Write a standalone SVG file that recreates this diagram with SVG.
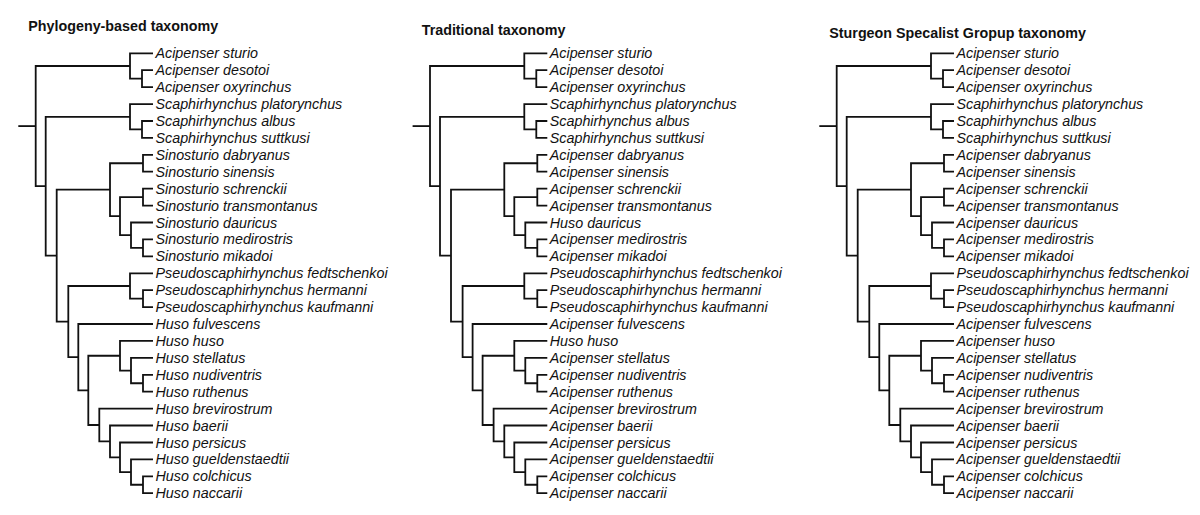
<svg xmlns="http://www.w3.org/2000/svg" width="1200" height="515" viewBox="0 0 1200 515">
<style>
.e{fill:none;stroke:#111;stroke-width:1.8;stroke-linejoin:miter;stroke-linecap:butt}
.t{font-family:"Liberation Sans",Arial,sans-serif;font-style:italic;font-size:14.3px;fill:#111}
.h{font-family:"Liberation Sans",Arial,sans-serif;font-weight:bold;font-size:14.3px;fill:#111}
</style>
<rect width="1200" height="515" fill="#fff"/>

<g id="tree1">
<text class="h" x="28.3" y="31">Phylogeny-based taxonomy</text>
<g id="connectors1" class="e">
<path d="M153 70.2H142V87.1H153"/><path d="M153 53.3H130V78.65H142"/>
<path d="M153 121H142V137.9H153"/><path d="M153 104.1H130V129.45H142"/>
<path d="M153 154.8H143V171.7H153"/><path d="M153 188.7H143V205.6H153"/>
<path d="M153 239.4H143V256.3H153"/><path d="M153 222.5H131V247.85H143"/>
<path d="M143 197.15H120V235.2H131"/><path d="M143 163.25H110V216.2H120"/>
<path d="M153 290.2H143V307.1H153"/><path d="M153 273.3H130V298.65H143"/>
<path d="M153 374.8H143V391.7H153"/><path d="M153 357.9H131V383.25H143"/>
<path d="M153 340.9H120V370.6H131"/><path d="M153 476.3H143V493.2H153"/>
<path d="M153 459.4H131V484.75H143"/><path d="M153 442.5H120V472.1H131"/>
<path d="M153 425.5H110V457.3H120"/><path d="M153 408.6H99.3V441.4H110"/>
<path d="M120 355.75H88.3V425H99.3"/><path d="M153 324H78.3V390.4H88.3"/>
<path d="M130 286H68.3V357.2H78.3"/><path d="M110 189.7H56.7V321.6H68.3"/>
<path d="M130 116.8H45.7V255.65H56.7"/><path d="M130 66H35.7V186.2H45.7"/>
<path d="M18.3 126.1H35.7"/>
</g>
<g id="labels1" class="t">
<g id="a1"><text x="155.5" y="58.3">Acipenser sturio</text></g>
<g id="a2"><text x="155.5" y="75.2">Acipenser desotoi</text></g>
<g id="a3"><text x="155.5" y="92.1">Acipenser oxyrinchus</text></g>
<g id="a4"><text x="155.5" y="109.1">Scaphirhynchus platorynchus</text></g>
<g id="a5"><text x="155.5" y="126">Scaphirhynchus albus</text></g>
<g id="a6"><text x="155.5" y="142.9">Scaphirhynchus suttkusi</text></g>
<g id="a7"><text x="155.5" y="159.8">Sinosturio dabryanus</text></g>
<g id="a8"><text x="155.5" y="176.7">Sinosturio sinensis</text></g>
<g id="a9"><text x="155.5" y="193.7">Sinosturio schrenckii</text></g>
<g id="a10"><text x="155.5" y="210.6">Sinosturio transmontanus</text></g>
<g id="a11"><text x="155.5" y="227.5">Sinosturio dauricus</text></g>
<g id="a12"><text x="155.5" y="244.4">Sinosturio medirostris</text></g>
<g id="a13"><text x="155.5" y="261.3">Sinosturio mikadoi</text></g>
<g id="a14"><text x="155.5" y="278.3">Pseudoscaphirhynchus fedtschenkoi</text></g>
<g id="a15"><text x="155.5" y="295.2">Pseudoscaphirhynchus hermanni</text></g>
<g id="a16"><text x="155.5" y="312.1">Pseudoscaphirhynchus kaufmanni</text></g>
<g id="a17"><text x="155.5" y="329">Huso fulvescens</text></g>
<g id="a18"><text x="155.5" y="345.9">Huso huso</text></g>
<g id="a19"><text x="155.5" y="362.9">Huso stellatus</text></g>
<g id="a20"><text x="155.5" y="379.8">Huso nudiventris</text></g>
<g id="a21"><text x="155.5" y="396.7">Huso ruthenus</text></g>
<g id="a22"><text x="155.5" y="413.6">Huso brevirostrum</text></g>
<g id="a23"><text x="155.5" y="430.5">Huso baerii</text></g>
<g id="a24"><text x="155.5" y="447.5">Huso persicus</text></g>
<g id="a25"><text x="155.5" y="464.4">Huso gueldenstaedtii</text></g>
<g id="a26"><text x="155.5" y="481.3">Huso colchicus</text></g>
<g id="a27"><text x="155.5" y="498.2">Huso naccarii</text></g>
</g>
</g>

<g id="tree2" transform="translate(394.3,0)">
<text class="h" x="27.4" y="35">Traditional taxonomy</text>
<g id="connectors2" class="e">
<path d="M153 70.2H142V87.1H153"/><path d="M153 53.3H130V78.65H142"/>
<path d="M153 121H142V137.9H153"/><path d="M153 104.1H130V129.45H142"/>
<path d="M153 154.8H143V171.7H153"/><path d="M153 188.7H143V205.6H153"/>
<path d="M153 239.4H143V256.3H153"/><path d="M153 222.5H131V247.85H143"/>
<path d="M143 197.15H120V235.2H131"/><path d="M143 163.25H110V216.2H120"/>
<path d="M153 290.2H143V307.1H153"/><path d="M153 273.3H130V298.65H143"/>
<path d="M153 374.8H143V391.7H153"/><path d="M153 357.9H131V383.25H143"/>
<path d="M153 340.9H120V370.6H131"/><path d="M153 476.3H143V493.2H153"/>
<path d="M153 459.4H131V484.75H143"/><path d="M153 442.5H120V472.1H131"/>
<path d="M153 425.5H110V457.3H120"/><path d="M153 408.6H99.3V441.4H110"/>
<path d="M120 355.75H88.3V425H99.3"/><path d="M153 324H78.3V390.4H88.3"/>
<path d="M130 286H68.3V357.2H78.3"/><path d="M110 189.7H56.7V321.6H68.3"/>
<path d="M130 116.8H45.7V255.65H56.7"/><path d="M130 66H35.7V186.2H45.7"/>
<path d="M18.3 126.1H35.7"/>
</g>
<g id="labels2" class="t">
<g id="b1"><text x="155.5" y="58.3">Acipenser sturio</text></g>
<g id="b2"><text x="155.5" y="75.2">Acipenser desotoi</text></g>
<g id="b3"><text x="155.5" y="92.1">Acipenser oxyrinchus</text></g>
<g id="b4"><text x="155.5" y="109.1">Scaphirhynchus platorynchus</text></g>
<g id="b5"><text x="155.5" y="126">Scaphirhynchus albus</text></g>
<g id="b6"><text x="155.5" y="142.9">Scaphirhynchus suttkusi</text></g>
<g id="b7"><text x="155.5" y="159.8">Acipenser dabryanus</text></g>
<g id="b8"><text x="155.5" y="176.7">Acipenser sinensis</text></g>
<g id="b9"><text x="155.5" y="193.7">Acipenser schrenckii</text></g>
<g id="b10"><text x="155.5" y="210.6">Acipenser transmontanus</text></g>
<g id="b11"><text x="155.5" y="227.5">Huso dauricus</text></g>
<g id="b12"><text x="155.5" y="244.4">Acipenser medirostris</text></g>
<g id="b13"><text x="155.5" y="261.3">Acipenser mikadoi</text></g>
<g id="b14"><text x="155.5" y="278.3">Pseudoscaphirhynchus fedtschenkoi</text></g>
<g id="b15"><text x="155.5" y="295.2">Pseudoscaphirhynchus hermanni</text></g>
<g id="b16"><text x="155.5" y="312.1">Pseudoscaphirhynchus kaufmanni</text></g>
<g id="b17"><text x="155.5" y="329">Acipenser fulvescens</text></g>
<g id="b18"><text x="155.5" y="345.9">Huso huso</text></g>
<g id="b19"><text x="155.5" y="362.9">Acipenser stellatus</text></g>
<g id="b20"><text x="155.5" y="379.8">Acipenser nudiventris</text></g>
<g id="b21"><text x="155.5" y="396.7">Acipenser ruthenus</text></g>
<g id="b22"><text x="155.5" y="413.6">Acipenser brevirostrum</text></g>
<g id="b23"><text x="155.5" y="430.5">Acipenser baerii</text></g>
<g id="b24"><text x="155.5" y="447.5">Acipenser persicus</text></g>
<g id="b25"><text x="155.5" y="464.4">Acipenser gueldenstaedtii</text></g>
<g id="b26"><text x="155.5" y="481.3">Acipenser colchicus</text></g>
<g id="b27"><text x="155.5" y="498.2">Acipenser naccarii</text></g>
</g>
</g>

<g id="tree3" transform="translate(801,0)">
<text class="h" x="28.3" y="37.7">Sturgeon Specalist Gropup taxonomy</text>
<g id="connectors3" class="e">
<path d="M153 70.2H142V87.1H153"/><path d="M153 53.3H130V78.65H142"/>
<path d="M153 121H142V137.9H153"/><path d="M153 104.1H130V129.45H142"/>
<path d="M153 154.8H143V171.7H153"/><path d="M153 188.7H143V205.6H153"/>
<path d="M153 239.4H143V256.3H153"/><path d="M153 222.5H131V247.85H143"/>
<path d="M143 197.15H120V235.2H131"/><path d="M143 163.25H110V216.2H120"/>
<path d="M153 290.2H143V307.1H153"/><path d="M153 273.3H130V298.65H143"/>
<path d="M153 374.8H143V391.7H153"/><path d="M153 357.9H131V383.25H143"/>
<path d="M153 340.9H120V370.6H131"/><path d="M153 476.3H143V493.2H153"/>
<path d="M153 459.4H131V484.75H143"/><path d="M153 442.5H120V472.1H131"/>
<path d="M153 425.5H110V457.3H120"/><path d="M153 408.6H99.3V441.4H110"/>
<path d="M120 355.75H88.3V425H99.3"/><path d="M153 324H78.3V390.4H88.3"/>
<path d="M130 286H68.3V357.2H78.3"/><path d="M110 189.7H56.7V321.6H68.3"/>
<path d="M130 116.8H45.7V255.65H56.7"/><path d="M130 66H35.7V186.2H45.7"/>
<path d="M18.3 126.1H35.7"/>
</g>
<g id="labels3" class="t">
<g id="c1"><text x="155.5" y="58.3">Acipenser sturio</text></g>
<g id="c2"><text x="155.5" y="75.2">Acipenser desotoi</text></g>
<g id="c3"><text x="155.5" y="92.1">Acipenser oxyrinchus</text></g>
<g id="c4"><text x="155.5" y="109.1">Scaphirhynchus platorynchus</text></g>
<g id="c5"><text x="155.5" y="126">Scaphirhynchus albus</text></g>
<g id="c6"><text x="155.5" y="142.9">Scaphirhynchus suttkusi</text></g>
<g id="c7"><text x="155.5" y="159.8">Acipenser dabryanus</text></g>
<g id="c8"><text x="155.5" y="176.7">Acipenser sinensis</text></g>
<g id="c9"><text x="155.5" y="193.7">Acipenser schrenckii</text></g>
<g id="c10"><text x="155.5" y="210.6">Acipenser transmontanus</text></g>
<g id="c11"><text x="155.5" y="227.5">Acipenser dauricus</text></g>
<g id="c12"><text x="155.5" y="244.4">Acipenser medirostris</text></g>
<g id="c13"><text x="155.5" y="261.3">Acipenser mikadoi</text></g>
<g id="c14"><text x="155.5" y="278.3">Pseudoscaphirhynchus fedtschenkoi</text></g>
<g id="c15"><text x="155.5" y="295.2">Pseudoscaphirhynchus hermanni</text></g>
<g id="c16"><text x="155.5" y="312.1">Pseudoscaphirhynchus kaufmanni</text></g>
<g id="c17"><text x="155.5" y="329">Acipenser fulvescens</text></g>
<g id="c18"><text x="155.5" y="345.9">Acipenser huso</text></g>
<g id="c19"><text x="155.5" y="362.9">Acipenser stellatus</text></g>
<g id="c20"><text x="155.5" y="379.8">Acipenser nudiventris</text></g>
<g id="c21"><text x="155.5" y="396.7">Acipenser ruthenus</text></g>
<g id="c22"><text x="155.5" y="413.6">Acipenser brevirostrum</text></g>
<g id="c23"><text x="155.5" y="430.5">Acipenser baerii</text></g>
<g id="c24"><text x="155.5" y="447.5">Acipenser persicus</text></g>
<g id="c25"><text x="155.5" y="464.4">Acipenser gueldenstaedtii</text></g>
<g id="c26"><text x="155.5" y="481.3">Acipenser colchicus</text></g>
<g id="c27"><text x="155.5" y="498.2">Acipenser naccarii</text></g>
</g>
</g>
</svg>
